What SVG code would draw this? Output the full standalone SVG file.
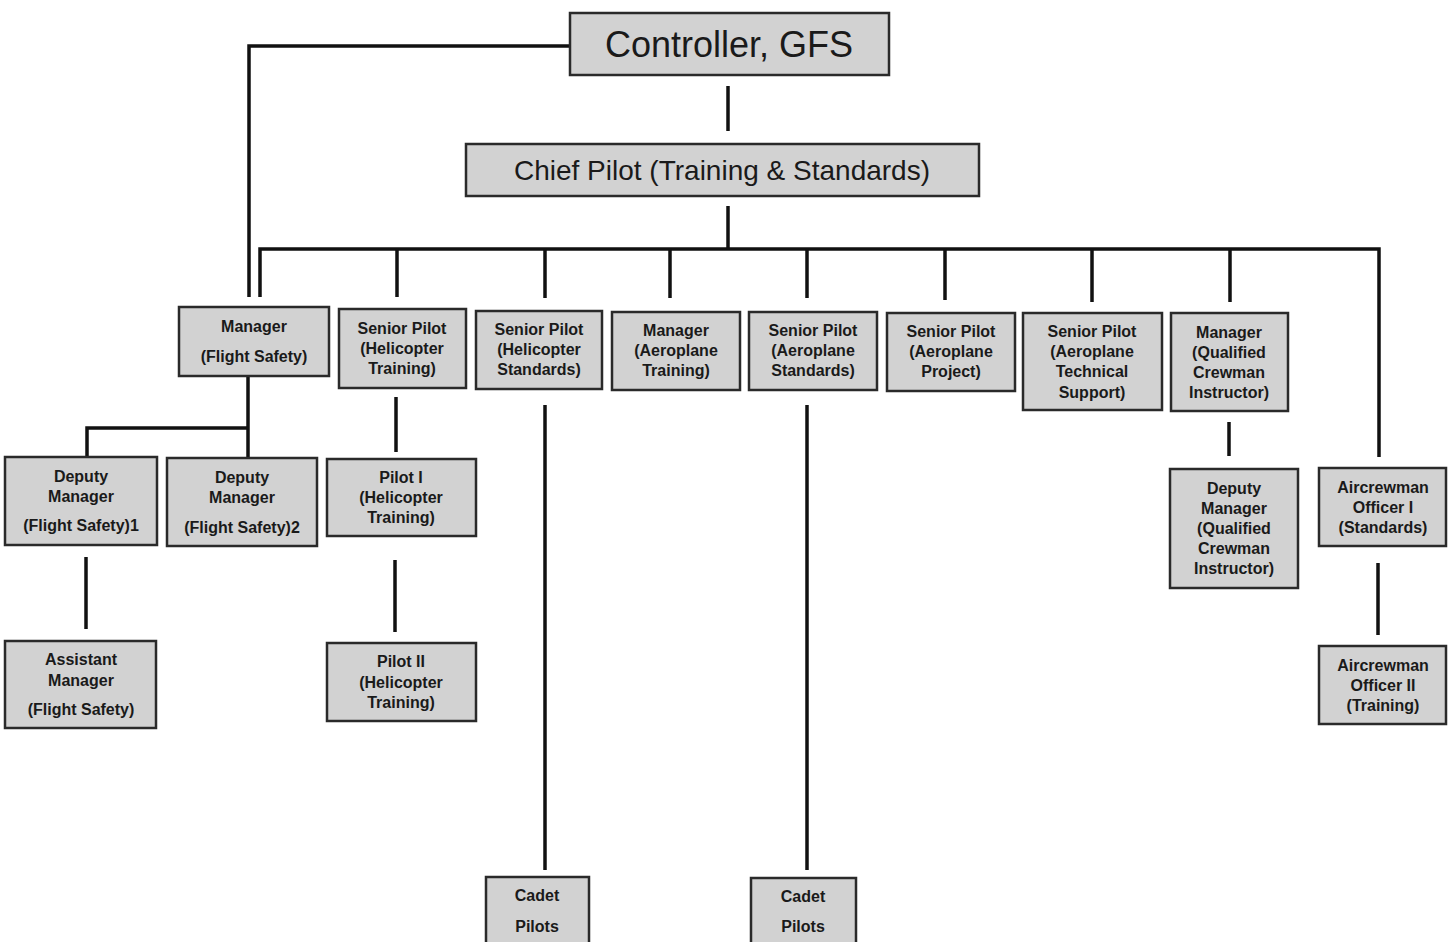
<svg xmlns="http://www.w3.org/2000/svg" width="1449" height="942" viewBox="0 0 1449 942">
<style>
.box{fill:#d2d2d2;stroke:#2a2a2a;stroke-width:2.5}
.t{font-family:"Liberation Sans",Arial,sans-serif;font-weight:bold;font-size:16px;fill:#1a1a1a;text-anchor:middle}
.big{font-family:"Liberation Sans",Arial,sans-serif;fill:#1a1a1a;text-anchor:middle}
.c{fill:none;stroke:#111;stroke-width:3.5}
</style>
<rect width="1449" height="942" fill="#ffffff"/>
<g id="connectors">
<path class="c" d="M569,46 H249 V297"/>
<path class="c" d="M728,86 V131"/>
<path class="c" d="M728,206 V249"/>
<path class="c" d="M260,297 V249 H1379 V457"/>
<path class="c" d="M397,249 V297"/>
<path class="c" d="M545,249 V298"/>
<path class="c" d="M670,249 V298"/>
<path class="c" d="M807,249 V298"/>
<path class="c" d="M945,249 V300"/>
<path class="c" d="M1092,249 V302"/>
<path class="c" d="M1230,249 V302"/>
<path class="c" d="M248,376 V458"/>
<path class="c" d="M87,457 V428 H248"/>
<path class="c" d="M86,557 V629"/>
<path class="c" d="M396,397 V452"/>
<path class="c" d="M395,560 V632"/>
<path class="c" d="M545,405 V870"/>
<path class="c" d="M807,405 V870"/>
<path class="c" d="M1229,422 V456"/>
<path class="c" d="M1378,563 V635"/>
</g>
<g id="controller">
<rect class="box" x="570" y="13" width="319" height="62"/>
<text class="big" x="729" y="57" font-size="36">Controller, GFS</text>
</g>
<g id="chief-pilot">
<rect class="box" x="466" y="144" width="513" height="52"/>
<text class="big" x="722" y="180" font-size="28">Chief Pilot (Training &amp; Standards)</text>
</g>
<g id="manager-fs">
<rect class="box" x="179" y="307" width="150" height="69"/>
<text class="t" x="254" y="332">Manager</text>
<text class="t" x="254" y="362">(Flight Safety)</text>
</g>
<g id="sp-heli-training">
<rect class="box" x="339" y="309" width="127" height="79"/>
<text class="t" x="402" y="334">Senior Pilot</text>
<text class="t" x="402" y="354">(Helicopter</text>
<text class="t" x="402" y="374">Training)</text>
</g>
<g id="sp-heli-standards">
<rect class="box" x="476" y="311" width="126" height="78"/>
<text class="t" x="539" y="335">Senior Pilot</text>
<text class="t" x="539" y="355">(Helicopter</text>
<text class="t" x="539" y="375">Standards)</text>
</g>
<g id="manager-aero-training">
<rect class="box" x="612" y="312" width="128" height="78"/>
<text class="t" x="676" y="336">Manager</text>
<text class="t" x="676" y="356">(Aeroplane</text>
<text class="t" x="676" y="376">Training)</text>
</g>
<g id="sp-aero-standards">
<rect class="box" x="749" y="312" width="128" height="78"/>
<text class="t" x="813" y="336">Senior Pilot</text>
<text class="t" x="813" y="356">(Aeroplane</text>
<text class="t" x="813" y="376">Standards)</text>
</g>
<g id="sp-aero-project">
<rect class="box" x="887" y="313" width="128" height="78"/>
<text class="t" x="951" y="337">Senior Pilot</text>
<text class="t" x="951" y="357">(Aeroplane</text>
<text class="t" x="951" y="377">Project)</text>
</g>
<g id="sp-aero-tech">
<rect class="box" x="1023" y="313" width="139" height="97"/>
<text class="t" x="1092" y="337">Senior Pilot</text>
<text class="t" x="1092" y="357">(Aeroplane</text>
<text class="t" x="1092" y="377">Technical</text>
<text class="t" x="1092" y="398">Support)</text>
</g>
<g id="manager-qci">
<rect class="box" x="1171" y="313" width="117" height="98"/>
<text class="t" x="1229" y="338">Manager</text>
<text class="t" x="1229" y="358">(Qualified</text>
<text class="t" x="1229" y="378">Crewman</text>
<text class="t" x="1229" y="398">Instructor)</text>
</g>
<g id="deputy-fs1">
<rect class="box" x="5" y="457" width="152" height="88"/>
<text class="t" x="81" y="482">Deputy</text>
<text class="t" x="81" y="502">Manager</text>
<text class="t" x="81" y="531">(Flight Safety)1</text>
</g>
<g id="deputy-fs2">
<rect class="box" x="167" y="458" width="150" height="88"/>
<text class="t" x="242" y="483">Deputy</text>
<text class="t" x="242" y="503">Manager</text>
<text class="t" x="242" y="533">(Flight Safety)2</text>
</g>
<g id="pilot-1">
<rect class="box" x="327" y="459" width="149" height="77"/>
<text class="t" x="401" y="483">Pilot I</text>
<text class="t" x="401" y="503">(Helicopter</text>
<text class="t" x="401" y="523">Training)</text>
</g>
<g id="assistant-manager">
<rect class="box" x="5" y="641" width="151" height="87"/>
<text class="t" x="81" y="665">Assistant</text>
<text class="t" x="81" y="686">Manager</text>
<text class="t" x="81" y="715">(Flight Safety)</text>
</g>
<g id="pilot-2">
<rect class="box" x="327" y="643" width="149" height="78"/>
<text class="t" x="401" y="667">Pilot II</text>
<text class="t" x="401" y="688">(Helicopter</text>
<text class="t" x="401" y="708">Training)</text>
</g>
<g id="deputy-qci">
<rect class="box" x="1170" y="469" width="128" height="119"/>
<text class="t" x="1234" y="494">Deputy</text>
<text class="t" x="1234" y="514">Manager</text>
<text class="t" x="1234" y="534">(Qualified</text>
<text class="t" x="1234" y="554">Crewman</text>
<text class="t" x="1234" y="574">Instructor)</text>
</g>
<g id="aircrewman-1">
<rect class="box" x="1319" y="468" width="127" height="78"/>
<text class="t" x="1383" y="493">Aircrewman</text>
<text class="t" x="1383" y="513">Officer I</text>
<text class="t" x="1383" y="533">(Standards)</text>
</g>
<g id="aircrewman-2">
<rect class="box" x="1319" y="646" width="127" height="78"/>
<text class="t" x="1383" y="671">Aircrewman</text>
<text class="t" x="1383" y="691">Officer II</text>
<text class="t" x="1383" y="711">(Training)</text>
</g>
<g id="cadet-1">
<rect class="box" x="486" y="877" width="103" height="70"/>
<text class="t" x="537" y="901">Cadet</text>
<text class="t" x="537" y="932">Pilots</text>
</g>
<g id="cadet-2">
<rect class="box" x="751" y="878" width="105" height="70"/>
<text class="t" x="803" y="902">Cadet</text>
<text class="t" x="803" y="932">Pilots</text>
</g>
</svg>
